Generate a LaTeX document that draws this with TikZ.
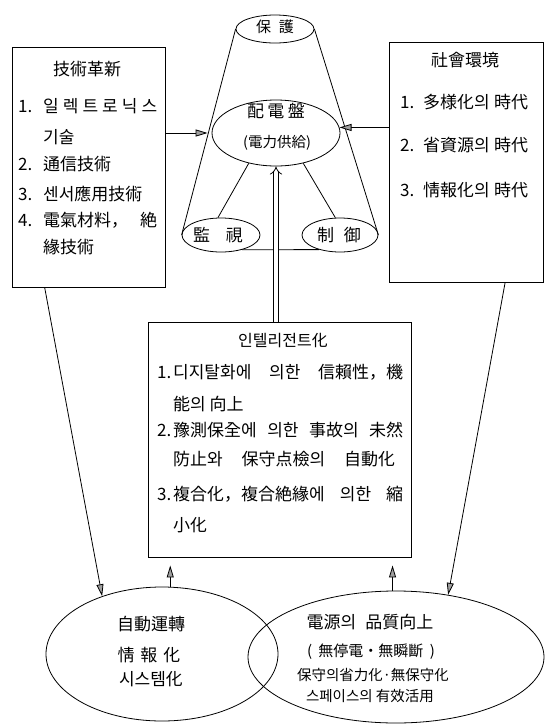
\documentclass[tikz,border=0pt]{standalone}
\usepackage{fontspec}
\setmainfont{Noto Sans CJK KR}
\usetikzlibrary{arrows.meta,shapes.geometric}
\begin{document}
\begin{tikzpicture}[x=1pt,y=-1pt,
  every node/.style={font=\fontsize{17pt}{20pt}\selectfont, inner sep=0pt, text height=0.84em, text depth=0.08em},
  box/.style={draw, line width=0.9pt, rectangle, inner sep=0pt, text height=, text depth=},
  ell/.style={draw, line width=0.8pt, ellipse, inner sep=0pt},
  ln/.style={line width=0.8pt},
  arr/.style={line width=0.8pt, -{Triangle[length=12pt,width=7pt,fill=gray!75]}},
  txt/.style={anchor=west},
  sm/.style={font=\fontsize{14.5pt}{17pt}\selectfont},
  mid/.style={font=\fontsize{15pt}{18pt}\selectfont},
  sub/.style={font=\fontsize{14.5pt}{17pt}\selectfont},
]
\useasboundingbox (0,0) rectangle (548,724);

% boxes
\node[box, minimum width=153pt, minimum height=240pt] (tech) at (88.5,167) {};
\node[box, minimum width=154pt, minimum height=240pt] (soc) at (466,162) {};
\node[box, minimum width=263pt, minimum height=235pt] (intel) at (279.5,439.5) {};

% ellipses
\node[ell, minimum width=78pt, minimum height=28pt] (prot) at (275,29) {};
\node[ell, minimum width=128pt, minimum height=66pt] (dist) at (276,133) {};
\node[ell, minimum width=78pt, minimum height=34pt] (mon) at (221,235) {};
\node[ell, minimum width=76pt, minimum height=34pt] (ctl) at (340,235) {};
\node[ell, minimum width=232pt, minimum height=134pt] (auto) at (162,654) {};
\node[ell, minimum width=296pt, minimum height=132pt] (qual) at (396,657) {};

% texts: left box
\node (techT) at (87,72) {技術革新};
\node[txt] (tl1) at (18,109) {\makebox[25pt][l]{1.}\makebox[114pt][s]{일\hfill 렉\hfill 트\hfill 로\hfill 닉\hfill 스}};
\node[txt] (tl1b) at (43,140) {기술};
\node[txt] (tl2) at (18,167) {\makebox[25pt][l]{2.}通信技術};
\node[txt] (tl3) at (18,197) {\makebox[25pt][l]{3.}센서應用技術};
\node[txt] (tl4) at (18,223) {\makebox[25pt][l]{4.}\makebox[114pt][s]{電氣材料，\hfill 絶}};
\node[txt] (tl4b) at (43,250) {緣技術};

% right box
\node (socT) at (465,63) {社會環境};
\node[txt] (sr1) at (400,105) {\makebox[23pt][l]{1.}\makebox[105pt][s]{多様化의 時代}};
\node[txt] (sr2) at (400,148) {\makebox[23pt][l]{2.}\makebox[105pt][s]{省資源의 時代}};
\node[txt] (sr3) at (400,193) {\makebox[23pt][l]{3.}\makebox[105pt][s]{情報化의 時代}};

% middle box
\node[font=\fontsize{16pt}{19pt}\selectfont] (intT) at (283,343) {인텔리전트化};
\node[txt] (m1) at (157,375) {\makebox[16pt][l]{1.}\makebox[230pt][s]{디지탈화에 의한 信賴性，機}};
\node[txt] (m1b) at (173,407) {能의 向上};
\node[txt] (m2) at (157,433) {\makebox[16pt][l]{2.}\makebox[230pt][s]{豫測保全에 의한 事故의 未然}};
\node[txt] (m2b) at (173,462) {\makebox[222pt][s]{防止와 保守点檢의 自動化}};
\node[txt] (m3) at (157,497) {\makebox[16pt][l]{3.}\makebox[230pt][s]{複合化，複合絶緣에 의한 縮}};
\node[txt] (m3b) at (173,528) {小化};

% center texts
\node[mid] (protT) at (275,29) {\makebox[38pt][s]{保 護}};
\node (distT1) at (276,114) {\makebox[58pt][s]{配 電 盤}};
\node[sub] (distT2) at (277,144) {(電力供給)};
\node (monT) at (218,238) {\makebox[50pt][s]{監 視}};
\node (ctlT) at (339,238) {\makebox[44pt][s]{制 御}};

% bottom texts
\node (a1) at (151,627) {自動運轉};
\node (a2) at (149,658) {\makebox[63pt][s]{情 報 化}};
\node (a3) at (151,682) {시스템化};
\node (q1) at (370,625) {\makebox[127pt][s]{電源의 品質向上}};
\node[font=\fontsize{15pt}{18pt}\selectfont] (q2) at (371,653) {\makebox[128pt][s]{(\hfill 無停電・無瞬斷\hfill )}};
\node[sm] (q3) at (373,677) {保守의省力化·無保守化};
\node[sm] (q4) at (370,698) {스페이스의 有效活用};

% connectors
\draw[ln] (prot.west) -- (mon.west);
\draw[ln] (prot.east) -- (ctl.east);
\draw[ln] (dist.-132) -- (mon.100);
\draw[ln] (dist.-48) -- (ctl.105);
\draw[ln] (mon.-35) -- (ctl.215);
\draw[ln, double, double distance=3.5pt, -{Implies}] (intel.north -| dist.south) -- (dist.south);
\draw[arr, shorten >=4pt] (tech.east |- dist.west) -- (dist.west);
\draw[arr] (soc.west |- dist.5) -- (dist.5);
\draw[arr] (tech.-110) -- (auto.136);
\draw[arr] (soc.-72) -- (qual.50);
\draw[arr, shorten >=8pt] (auto.83) -- (auto.83 |- intel.south);
\draw[arr, shorten >=8pt] (qual.93) -- (qual.93 |- intel.south);
\end{tikzpicture}
\end{document}
